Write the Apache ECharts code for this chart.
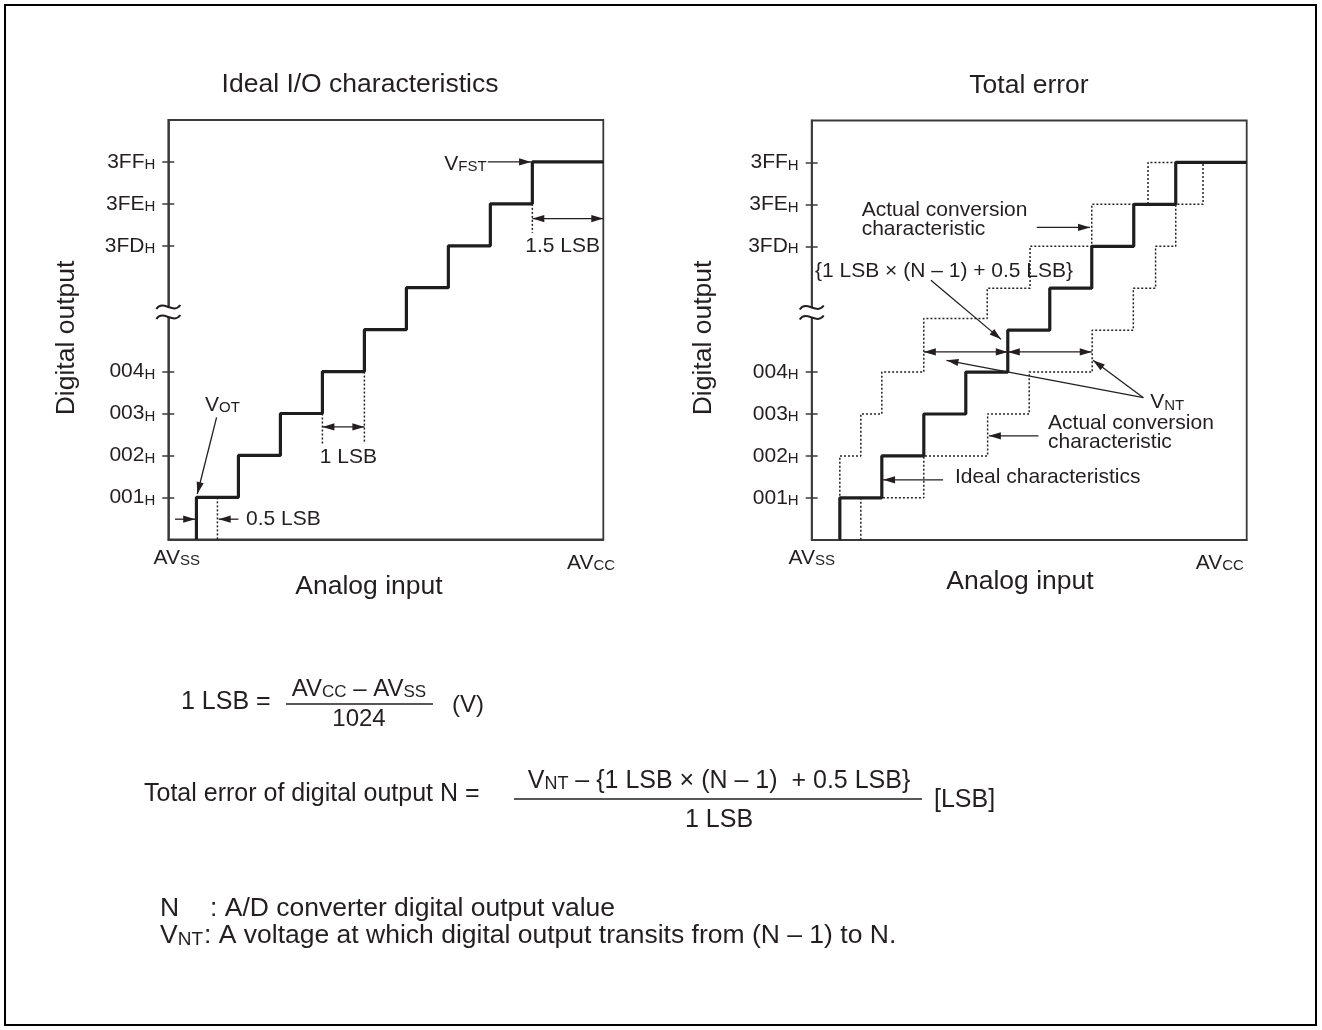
<!DOCTYPE html>
<html>
<head>
<meta charset="utf-8">
<script src="https://cdn.jsdelivr.net/npm/echarts@6.0.0/dist/echarts.min.js"></script>
<style>html,body{margin:0;padding:0;background:#fff;} #chart{width:1322px;height:1030px;}</style>
</head>
<body>
<div id="chart"></div>
<script>
// ---------------- data (x: analog input in LSB from AVss, y: output code step) ----------------
const xMax = 10.36;            // AVcc
const yMax = 10;
const tickValues = [1, 2, 3, 4, 7, 8, 9];
const tickLabels = ['001', '002', '003', '004', '3FD', '3FE', '3FF'];

// ideal characteristic: transition points and output steps
const idealT = [0.67, 1.67, 2.67, 3.67, 4.67, 5.67, 6.67, 7.67, 8.67];
const idealL = [1, 2, 3, 4, 5, 6, 7, 8, 9];
// actual conversion characteristic (early)
const earlyT = [0.67, 0.67, 1.17, 1.67, 2.67, 4.18, 5.20, 6.67, 8.01];
const earlyL = [1, 2, 3, 4, 5.28, 6, 7, 8, 9];
const earlyEnd = 8.67;
// actual conversion characteristic (late)
const lateT = [1.17, 2.67, 4.19, 5.18, 6.68, 7.66, 8.19, 8.67, 9.32];
const lateL = [1, 2, 3, 4, 5, 6, 7, 8, 9];
const lateEnd = 9.32;
const breakLevel = 5.42;

// annotations, left chart  [x1, y1, x2, y2, headAtStart, headAtEnd]
const leftArrows = [
  [7.61, 9, 8.64, 9, 0, 1],
  [8.67, 7.65, 10.36, 7.65, 1, 1],
  [3.67, 2.68, 4.67, 2.68, 1, 1],
  [1.15, 2.91, 0.69, 1.08, 0, 1],
  [0.16, 0.48, 0.64, 0.48, 0, 1],
  [1.67, 0.48, 1.20, 0.48, 0, 1]
];
const leftGuides = [
  [8.67, 8, 8.67, 7.31],
  [3.67, 3, 3.67, 2.28],
  [4.67, 4, 4.67, 2.28],
  [1.17, 1, 1.17, 0]
];
const leftTextPos = [[7.58, 8.95], [10.28, 6.99], [4.29, 1.96], [1.29, 3.21], [1.85, 0.48], [0.2, -0.44], [10.07, -0.56]];
const leftTextStr = ['V{s|FST}', '1.5 LSB', '1 LSB', 'V{s|OT}', '0.5 LSB', 'AV{s|SS}', 'AV{s|CC}'];
const leftTextAlign = ['right', 'right', 'center', 'center', 'left', 'center', 'center'];

// annotations, right chart
const rightArrows = [
  [5.36, 7.45, 6.63, 7.45, 0, 1],
  [2.84, 6.19, 4.51, 4.78, 0, 1],
  [2.67, 4.48, 4.67, 4.48, 1, 1],
  [4.67, 4.48, 6.67, 4.48, 1, 1],
  [7.90, 3.39, 3.21, 4.28, 0, 1],
  [7.90, 3.39, 6.70, 4.28, 0, 1],
  [5.40, 2.48, 4.22, 2.48, 0, 1],
  [3.13, 1.43, 1.70, 1.43, 0, 1]
];
const rightTextPos = [[1.19, 7.87], [1.19, 7.40], [0.08, 6.40], [8.06, 3.27], [5.63, 2.79], [5.63, 2.32], [3.41, 1.49], [0.0, -0.44], [9.72, -0.56]];
const rightTextStr = ['Actual conversion', 'characteristic', '{1 LSB × (N – 1) + 0.5 LSB}', 'V{s|NT}', 'Actual conversion', 'characteristic', 'Ideal characteristics', 'AV{s|SS}', 'AV{s|CC}'];
const rightTextAlign = ['left', 'left', 'left', 'left', 'left', 'left', 'left', 'center', 'center'];

// ---------------- helpers ----------------
const FF = "'Liberation Sans', Arial, Helvetica, sans-serif";
const INK = '#231f20';
const LINE = '#3a3a3a';

function stairs(T, L, endX) {
  const pts = [[T[0], 0]];
  let prev = 0;
  for (let i = 0; i < T.length; i++) {
    pts.push([T[i], prev]);
    pts.push([T[i], L[i]]);
    prev = L[i];
  }
  pts.push([endX, prev]);
  return pts;
}

function lineSeries(xi, yi, data, dotted) {
  return {
    type: 'line', xAxisIndex: xi, yAxisIndex: yi, data: data,
    showSymbol: false, symbol: 'none', animation: false, silent: true,
    z: dotted ? 2 : 4,
    lineStyle: dotted ? { color: '#222', width: 1.5, type: [2, 2] } : { color: '#1e1e1e', width: 3.2 }
  };
}

function head(tip, from) {
  const dx = tip[0] - from[0], dy = tip[1] - from[1];
  const len = Math.hypot(dx, dy) || 1;
  const ux = dx / len, uy = dy / len;
  const L = 12, W = 3.6;
  const bx = tip[0] - ux * L, by = tip[1] - uy * L;
  return { type: 'polygon', shape: { points: [[tip[0], tip[1]], [bx - uy * W, by + ux * W], [bx + uy * W, by - ux * W]] }, style: { fill: INK } };
}

function arrowSeries(xi, yi, arr) {
  return {
    type: 'custom', coordinateSystem: 'cartesian2d', xAxisIndex: xi, yAxisIndex: yi,
    data: arr, encode: { x: [0, 2], y: [1, 3] }, animation: false, silent: true, z: 6,
    renderItem: function (params, api) {
      const p1 = api.coord([api.value(0), api.value(1)]);
      const p2 = api.coord([api.value(2), api.value(3)]);
      const ch = [{ type: 'line', shape: { x1: p1[0], y1: p1[1], x2: p2[0], y2: p2[1] }, style: { stroke: INK, lineWidth: 1.3 } }];
      if (api.value(5)) ch.push(head(p2, p1));
      if (api.value(4)) ch.push(head(p1, p2));
      return { type: 'group', children: ch };
    }
  };
}

function guideSeries(xi, yi, arr) {
  return {
    type: 'custom', coordinateSystem: 'cartesian2d', xAxisIndex: xi, yAxisIndex: yi,
    data: arr, encode: { x: [0, 2], y: [1, 3] }, animation: false, silent: true, z: 3,
    renderItem: function (params, api) {
      const p1 = api.coord([api.value(0), api.value(1)]);
      const p2 = api.coord([api.value(2), api.value(3)]);
      return { type: 'line', shape: { x1: p1[0], y1: p1[1], x2: p2[0], y2: p2[1] }, style: { stroke: '#222', lineWidth: 1.5, lineDash: [2, 2] } };
    }
  };
}

function textSeries(xi, yi, pos, strs, aligns) {
  return {
    type: 'custom', coordinateSystem: 'cartesian2d', xAxisIndex: xi, yAxisIndex: yi,
    data: pos, encode: { x: 0, y: 1 }, animation: false, silent: true, z: 7,
    renderItem: function (params, api) {
      const p = api.coord([api.value(0), api.value(1)]);
      const i = params.dataIndex;
      return {
        type: 'text', x: p[0], y: p[1],
        style: {
          text: strs[i], fontSize: 21, fontFamily: FF, fill: INK, align: aligns[i], verticalAlign: 'middle',
          rich: { s: { fontSize: 15, fontFamily: FF, fill: INK, verticalAlign: 'bottom' } }
        }
      };
    }
  };
}

function breakSeries(xi, yi) {
  return {
    type: 'custom', coordinateSystem: 'cartesian2d', xAxisIndex: xi, yAxisIndex: yi,
    data: [[0, breakLevel]], encode: { x: 0, y: 1 }, animation: false, silent: true, z: 8,
    renderItem: function (params, api) {
      const p = api.coord([api.value(0), api.value(1)]);
      const wave = (dy) => ({ type: 'bezierCurve', shape: { x1: -12, y1: dy + 2, cpx1: -5, cpy1: dy - 8, cpx2: 5, cpy2: dy + 8, x2: 12, y2: dy - 2 }, style: { stroke: INK, lineWidth: 2, fill: null } });
      return {
        type: 'group', x: p[0], y: p[1],
        children: [
          { type: 'rect', shape: { x: -4, y: -5, width: 8, height: 10 }, style: { fill: '#fff' } },
          wave(-5), wave(5)
        ]
      };
    }
  };
}

function xAxis(gi) {
  return {
    gridIndex: gi, type: 'value', min: 0, max: xMax,
    axisLine: { show: true, lineStyle: { color: LINE, width: 1.8 } },
    axisTick: { show: false }, axisLabel: { show: false }, splitLine: { show: false }
  };
}

function yAxes(gi) {
  const common = { gridIndex: gi, type: 'value', min: 0, max: yMax, interval: 1, splitLine: { show: false }, position: 'left' };
  return [
    Object.assign({}, common, {
      axisLine: { show: true, lineStyle: { color: LINE, width: 1.8 } },
      axisTick: { show: true, inside: false, length: 6, customValues: tickValues, lineStyle: { color: LINE, width: 1.5 } },
      axisLabel: {
        show: true, customValues: tickValues, margin: 13, fontSize: 21, fontFamily: FF, color: INK,
        formatter: function (v) { const k = tickValues.indexOf(v); return (k >= 0 ? tickLabels[k] : '') + '{h|H}'; },
        rich: { h: { fontSize: 15, fontFamily: FF, color: INK, verticalAlign: 'bottom' } }
      }
    }),
    Object.assign({}, common, {
      axisLine: { show: false }, axisLabel: { show: false },
      axisTick: { show: true, inside: true, length: 6, customValues: tickValues, lineStyle: { color: LINE, width: 1.5 } }
    })
  ];
}

function gtext(x, y, text, size, align, extra) {
  return Object.assign({
    type: 'text', x: x, y: y, silent: true,
    style: {
      text: text, fontSize: size, fontFamily: FF, fill: INK, align: align || 'left', verticalAlign: 'middle',
      rich: { s: { fontSize: Math.round(size * 0.7), fontFamily: FF, fill: INK, verticalAlign: 'bottom' } }
    }
  }, extra || {});
}
function gline(x1, y1, x2, y2, w) {
  return { type: 'line', silent: true, shape: { x1: x1, y1: y1, x2: x2, y2: y2 }, style: { stroke: INK, lineWidth: w || 1.5 } };
}

// ---------------- chart ----------------
const chart = echarts.init(document.getElementById('chart'), null, { renderer: 'canvas' });
const option = {
  backgroundColor: '#ffffff',
  animation: false,
  grid: [
    { left: 168.3, top: 120, width: 435, height: 419.3, show: true, borderColor: LINE, borderWidth: 1.8, backgroundColor: 'transparent' },
    { left: 811.7, top: 120.5, width: 435, height: 419.3, show: true, borderColor: LINE, borderWidth: 1.8, backgroundColor: 'transparent' }
  ],
  xAxis: [xAxis(0), xAxis(1)],
  yAxis: yAxes(0).concat(yAxes(1)),
  series: [
    lineSeries(0, 0, stairs(idealT, idealL, xMax), false),
    lineSeries(1, 2, stairs(earlyT, earlyL, earlyEnd), true),
    lineSeries(1, 2, stairs(lateT, lateL, lateEnd), true),
    lineSeries(1, 2, stairs(idealT, idealL, xMax), false),
    guideSeries(0, 0, leftGuides),
    arrowSeries(0, 0, leftArrows),
    textSeries(0, 0, leftTextPos, leftTextStr, leftTextAlign),
    breakSeries(0, 0),
    arrowSeries(1, 2, rightArrows),
    textSeries(1, 2, rightTextPos, rightTextStr, rightTextAlign),
    breakSeries(1, 2)
  ],
  graphic: [
    { type: 'rect', silent: true, shape: { x: 5, y: 5, width: 1311, height: 1020 }, style: { fill: null, stroke: '#000', lineWidth: 2 } },
    // titles and axis names
    gtext(360, 85, 'Ideal I/O characteristics', 26.5, 'center'),
    gtext(1029, 86, 'Total error', 26.5, 'center'),
    gtext(369, 587, 'Analog input', 26.5, 'center'),
    gtext(1020, 582, 'Analog input', 26.5, 'center'),
    gtext(67, 338, 'Digital output', 26.5, 'center', { rotation: Math.PI / 2 }),
    gtext(704, 338, 'Digital output', 26.5, 'center', { rotation: Math.PI / 2 }),
    // formula 1
    gtext(181, 702, '1 LSB =', 25, 'left'),
    gtext(359, 689, 'AV{s|CC} – AV{s|SS}', 24, 'center'),
    gline(286, 704, 433, 704, 1.6),
    gtext(359, 719, '1024', 24, 'center'),
    gtext(452, 705, '(V)', 24, 'left'),
    // formula 2
    gtext(144, 794, 'Total error of digital output N =', 25, 'left'),
    gtext(719, 781, 'V{s|NT} – {1 LSB × (N – 1)  + 0.5 LSB}', 25, 'center'),
    gline(514, 799, 922, 799, 1.6),
    gtext(719, 820, '1 LSB', 25, 'center'),
    gtext(934, 800, '[LSB]', 25, 'left'),
    // legend lines
    gtext(160, 909, 'N', 26.5, 'left'),
    gtext(210, 909, ': A/D converter digital output value', 26.5, 'left'),
    gtext(160, 936, 'V{s|NT}', 26.5, 'left'),
    gtext(204, 936, ': A voltage at which digital output transits from (N – 1) to N.', 26.5, 'left')
  ]
};
chart.setOption(option);
</script>
</body>
</html>
